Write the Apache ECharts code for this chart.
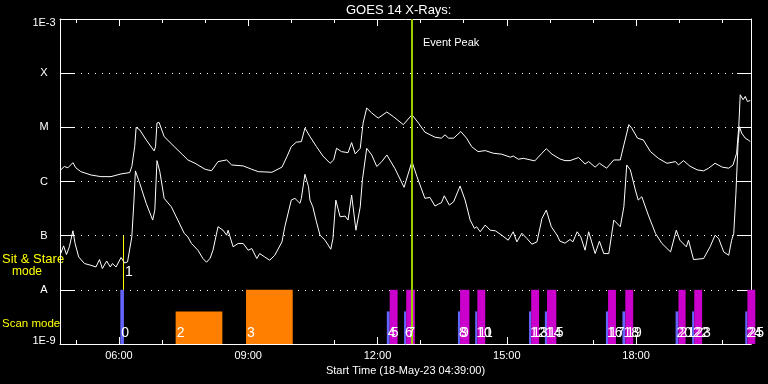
<!DOCTYPE html>
<html><head><meta charset="utf-8">
<script src="https://cdn.jsdelivr.net/npm/echarts@6/dist/echarts.min.js"></script>
<style>html,body{margin:0;padding:0;background:#000}#c{width:768px;height:384px}</style>
</head><body><div id="c"></div>
<script>
// ---------- data ----------
const chartTitle = 'GOES 14 X-Rays:';
const xAxisTitle = 'Start Time (18-May-23 04:39:00)';
const xStart = '04:38';
const xEnd = '20:40';
const hourTicks = [5,6,7,8,9,10,11,12,13,14,15,16,17,18,19,20];
const labelHours = [6,9,12,15,18];
const yLabels = {'-3':'1E-3','-4':'X','-5':'M','-6':'C','-7':'B','-8':'A','-9':'1E-9'};
const eventPeakTime = '12:48';

// long-wavelength channel (upper curve)
const longTimes = ['04:39','04:44','04:49','04:56','05:00','05:07','05:21','05:35','05:49','06:03','06:15','06:18','06:22','06:24','06:29','06:38','06:49','06:51','06:53','06:56','07:03','07:17','07:29','07:36','07:46','08:00','08:09','08:18','08:30','08:37','08:53','09:05','09:14','09:33','09:47','09:54','10:00','10:07','10:14','10:19','10:26','10:35','10:44','10:54','10:59','11:03','11:10','11:19','11:24','11:29','11:36','11:40','11:45','11:52','12:01','12:13','12:22','12:36','12:48','12:57','13:06','13:20','13:29','13:34','13:39','13:46','13:56','14:04','14:11','14:20','14:30','14:41','14:53','15:05','15:09','15:16','15:23','15:39','15:49','15:55','16:03','16:14','16:21','16:28','16:40','16:49','16:54','17:03','17:09','17:19','17:29','17:38','17:43','17:50','17:54','18:02','18:10','18:20','18:31','18:43','18:55','18:59','19:06','19:15','19:25','19:34','19:41','19:50','20:00','20:09','20:15','20:20','20:23','20:25','20:29','20:32','20:35','20:39'];
const longFlux = [1.64e-6,1.89e-6,1.79e-6,2.23e-6,1.79e-6,1.52e-6,1.32e-6,1.23e-6,1.23e-6,1.38e-6,1.46e-6,1.89e-6,4.41e-6,1.0e-5,8.99e-6,5.86e-6,3.67e-6,4.41e-6,1.20e-5,1.23e-5,6.75e-6,4.41e-6,3.09e-6,2.50e-6,2.17e-6,1.68e-6,1.58e-6,2.33e-6,2.50e-6,2.02e-6,1.94e-6,1.68e-6,1.52e-6,1.48e-6,1.84e-6,2.88e-6,4.41e-6,5.32e-6,5.45e-6,9.66e-6,6.75e-6,4.41e-6,2.96e-6,2.17e-6,2.50e-6,4.10e-6,3.56e-6,3.41e-6,5.23e-6,3.23e-6,4.10e-6,1.20e-5,2.27e-5,1.84e-5,1.48e-5,1.92e-5,1.58e-5,1.12e-5,1.71e-5,1.20e-5,8.15e-6,6.58e-6,6.31e-6,7.26e-6,6.31e-6,6.31e-6,8.36e-6,6.31e-6,4.41e-6,3.56e-6,3.72e-6,3.33e-6,3.19e-6,2.81e-6,2.96e-6,2.58e-6,2.68e-6,2.40e-6,3.33e-6,4.03e-6,3.19e-6,2.61e-6,2.43e-6,2.43e-6,2.77e-6,2.11e-6,2.33e-6,1.84e-6,2.17e-6,1.76e-6,2.50e-6,2.50e-6,4.74e-6,1.12e-5,9.66e-6,6.31e-6,5.86e-6,3.56e-6,2.68e-6,2.17e-6,2.33e-6,2.02e-6,2.43e-6,1.92e-6,1.64e-6,1.57e-6,1.76e-6,2.17e-6,1.84e-6,1.76e-6,2.02e-6,3.33e-6,1.03e-5,3.99e-5,3.23e-5,3.72e-5,3.00e-5,3.13e-5];

// short-wavelength channel (lower curve)
const shortTimes = ['04:39','04:43','04:47','04:51','04:56','04:59','05:04','05:12','05:21','05:28','05:33','05:37','05:43','05:48','05:51','05:56','06:03','06:08','06:12','06:18','06:21','06:23','06:29','06:38','06:47','06:50','06:53','06:57','07:03','07:13','07:22','07:31','07:36','07:41','07:50','07:57','08:02','08:07','08:11','08:18','08:25','08:30','08:32','08:39','08:46','08:53','09:00','09:05','09:12','09:16','09:23','09:30','09:37','09:47','09:51','10:00','10:05','10:12','10:14','10:19','10:24','10:26','10:30','10:35','10:40','10:47','10:55','10:58','11:02','11:08','11:15','11:19','11:24','11:30','11:36','11:39','11:45','11:52','11:59','12:06','12:13','12:24','12:37','12:48','12:55','13:06','13:13','13:20','13:25','13:29','13:33','13:40','13:46','13:55','14:02','14:09','14:15','14:18','14:23','14:30','14:37','14:44','14:53','15:02','15:09','15:14','15:21','15:28','15:35','15:42','15:49','15:55','16:02','16:10','16:14','16:21','16:28','16:32','16:38','16:43','16:49','16:54','17:03','17:09','17:15','17:22','17:29','17:38','17:43','17:47','17:52','17:59','18:03','18:08','18:17','18:27','18:36','18:48','18:56','19:01','19:10','19:13','19:20','19:34','19:43','19:50','19:55','20:02','20:09','20:13','20:16','20:19','20:22','20:24','20:27','20:32','20:36','20:39'];
const shortFlux = [4.67e-8,6.48e-8,4.49e-8,6.22e-8,1.23e-7,7.17e-8,4.05e-8,3.06e-8,2.84e-8,2.64e-8,3.62e-8,2.47e-8,3.41e-8,2.64e-8,3.06e-8,2.64e-8,3.95e-8,3.13e-8,3.27e-8,9.50e-8,4.54e-7,1.57e-6,9.26e-7,3.95e-7,1.94e-7,2.96e-7,2.43e-6,1.52e-6,4.89e-7,3.41e-7,1.94e-7,1.10e-7,9.50e-8,7.17e-8,5.39e-8,3.78e-8,3.23e-8,3.83e-8,5.39e-8,1.46e-7,1.26e-7,1.02e-7,1.26e-7,6.22e-8,7.17e-8,7.17e-8,5.39e-8,5.79e-8,3.78e-8,4.67e-8,4.05e-8,3.52e-8,4.35e-8,7.68e-8,1.46e-7,4.54e-7,4.89e-7,3.95e-7,4.89e-7,1.36e-6,8.01e-7,4.54e-7,3.41e-7,1.80e-7,1.02e-7,8.25e-8,5.62e-8,8.87e-8,4.54e-7,2.23e-7,2.30e-7,1.94e-7,5.62e-7,1.26e-7,3.41e-7,1.07e-6,4.10e-6,3.09e-6,1.89e-6,2.33e-6,3.09e-6,1.76e-6,7.81e-7,2.33e-6,1.23e-6,4.89e-7,5.09e-7,3.52e-7,3.83e-7,4.05e-7,5.45e-7,3.67e-7,4.22e-7,8.25e-7,4.54e-7,1.94e-7,1.36e-7,1.46e-7,1.18e-7,1.57e-7,1.26e-7,1.23e-7,1.02e-7,8.25e-8,1.18e-7,7.68e-8,1.11e-7,8.87e-8,6.96e-8,7.68e-8,2.08e-7,2.96e-7,1.46e-7,1.02e-7,7.91e-8,7.26e-8,8.50e-8,7.68e-8,1.18e-7,9.50e-8,5.39e-8,1.18e-7,4.67e-8,7.91e-8,4.67e-8,4.67e-8,1.94e-7,1.46e-7,3.41e-7,2.02e-6,1.64e-6,6.96e-7,4.54e-7,5.23e-7,2.40e-7,1.10e-7,7.17e-8,5.01e-8,1.26e-7,8.25e-8,6.22e-8,8.25e-8,3.62e-8,3.78e-8,6.22e-8,1.02e-7,8.87e-8,5.01e-8,4.35e-8,8.25e-8,1.10e-7,6.05e-7,5.09e-6,1.03e-5,7.81e-6,6.31e-6,5.86e-6,5.45e-6];

// observation events (numbered 0..25)
const eventNames = ['0','1','2','3','4','5','6','7','8','9','10','11','12','13','14','15','16','17','18','19','20','21','22','23','24','25'];
const eventKinds = ['raster','stare','scan','scan','raster','sitstare','raster','sitstare','raster','sitstare','raster','sitstare','raster','sitstare','raster','sitstare','raster','sitstare','raster','sitstare','raster','sitstare','raster','sitstare','raster','sitstare'];
const eventStart = ['06:02','06:06','07:19','08:57','12:13','12:17','12:37','12:40','13:52','13:55','14:16','14:19','15:31','15:34','15:53','15:56','17:18','17:21','17:41','17:45','18:55','18:59','19:18','19:21','20:32','20:35'];
const eventEnd   = ['06:07','06:06','08:24','10:02','12:17','12:28','12:40','12:52','13:55','14:08','14:19','14:30','15:34','15:45','15:56','16:09','17:21','17:32','17:45','17:56','18:59','19:09','19:21','19:32','20:35','20:46'];
const eventTop    = [1e-8,1e-7,4e-9,1e-8,4e-9,1e-8,4e-9,1e-8,4e-9,1e-8,4e-9,1e-8,4e-9,1e-8,4e-9,1e-8,4e-9,1e-8,4e-9,1e-8,4e-9,1e-8,4e-9,1e-8,4e-9,1e-8];
const eventBottom = [1e-9,1e-8,1e-9,1e-9,1e-9,1e-9,1e-9,1e-9,1e-9,1e-9,1e-9,1e-9,1e-9,1e-9,1e-9,1e-9,1e-9,1e-9,1e-9,1e-9,1e-9,1e-9,1e-9,1e-9,1e-9,1e-9];

// ---------- helpers / styles ----------
const FONT = 'Liberation Sans';
const kindList = ['raster','stare','scan','sitstare'];
const kindColor = {raster:'#6464ff', stare:'#ffff00', scan:'#ff8000', sitstare:'#cc00cc'};
function toHours(s){ const p = s.split(':').map(Number); return p[0] + p[1]/60; }
function pad(n){ return (n < 10 ? '0' : '') + n; }

const longData = longTimes.map((t,i)=>[toHours(t), longFlux[i]]);
const shortData = shortTimes.map((t,i)=>[toHours(t), shortFlux[i]]);
const eventData = eventNames.map((n,i)=>[toHours(eventStart[i]), toHours(eventEnd[i]), eventTop[i], eventBottom[i], kindList.indexOf(eventKinds[i])]);

const xMin = toHours(xStart), xMax = toHours(xEnd);
const white = '#ffffff';
function xAx(pos, tickLen, ticks, withLine, withLabel){
  const a = {
    type:'value', min:xMin, max:xMax, position:pos,
    splitLine:{show:false},
    axisLine:{show:withLine, onZero:false, lineStyle:{color:white, width:1}},
    axisTick:{show:true, inside:true, length:tickLen, customValues:ticks, lineStyle:{color:white, width:1}},
    axisLabel:{show:withLabel}
  };
  if (withLabel){
    a.axisLabel = {show:true, customValues:labelHours, color:white, fontSize:11, fontFamily:FONT, margin:6,
      formatter:v=>pad(Math.round(v))+':00'};
    a.name = xAxisTitle; a.nameLocation = 'middle'; a.nameGap = 17;
    a.nameTextStyle = {color:white, fontSize:11, fontFamily:FONT};
  }
  return a;
}
function yAx(pos, withLabel){
  return {
    type:'log', logBase:10, min:1e-9, max:1e-3, position:pos,
    axisLine:{show:true, onZero:false, lineStyle:{color:white, width:1}},
    axisTick:{show:true, inside:true, length:14, lineStyle:{color:white, width:1}},
    splitLine:{show:withLabel, lineStyle:{color:white, width:1, type:[1,6]}},
    axisLabel:{show:withLabel, color:white, fontSize:11, fontFamily:FONT, margin:16, align:'center',
      formatter:v=>{ const e = Math.round(Math.log10(v)); const t = yLabels[String(e)] || '';
        if (e === -3) return '{t|'+t+'}'; if (e === -9) return '{b|'+t+'}'; return t; },
      rich:{ t:{padding:[7,0,0,0], color:white, fontSize:11, fontFamily:FONT},
             b:{padding:[0,0,7,0], color:white, fontSize:11, fontFamily:FONT} }
    }
  };
}

const chart = echarts.init(document.getElementById('c'), null, {renderer:'canvas'});
chart.setOption({
  animation:false,
  backgroundColor:'#000000',
  title:{text:chartTitle, left:346, top:4, padding:0,
    textStyle:{color:white, fontSize:13, fontWeight:'normal', fontFamily:FONT}},
  grid:{left:60, right:17, top:19, bottom:40, containLabel:false},
  xAxis:[ xAx('bottom',4,hourTicks,true,true), xAx('bottom',7,labelHours,false,false),
          xAx('top',4,hourTicks,true,false), xAx('top',7,labelHours,false,false) ],
  yAxis:[ yAx('left',true), yAx('right',false) ],
  graphic:[
    {type:'text', x:423, y:43, style:{text:'Event Peak', fill:white, fontSize:11, fontFamily:FONT, verticalAlign:'middle'}},
    {type:'text', x:2, y:259, style:{text:'Sit & Stare', fill:'#ffff00', fontSize:13, fontFamily:FONT, verticalAlign:'middle'}},
    {type:'text', x:12, y:272, style:{text:'mode', fill:'#ffff00', fontSize:12, fontFamily:FONT, verticalAlign:'middle'}},
    {type:'text', x:2, y:324, style:{text:'Scan mode', fill:'#ffff00', fontSize:11.5, fontFamily:FONT, verticalAlign:'middle'}}
  ],
  series:[
    {type:'custom', xAxisIndex:0, yAxisIndex:0, z:1, clip:false, silent:true,
     encode:{x:[0,1], y:[2,3]}, data:eventData,
     renderItem:(params, api)=>{
       const s = api.value(0), e = api.value(1), top = api.value(2), bot = api.value(3);
       const kind = kindList[api.value(4)];
       if (kind === 'stare'){
         const p0 = api.coord([s,bot]), p1 = api.coord([s,top]);
         const x = Math.round(p0[0]) + 0.5;
         return {type:'line', shape:{x1:x, y1:p0[1], x2:x, y2:p1[1]}, style:{stroke:kindColor[kind], lineWidth:1}};
       }
       const p0 = api.coord([s,bot]), p1 = api.coord([e,top]);
       return {type:'rect', shape:{x:p0[0], y:p1[1], width:p1[0]-p0[0], height:p0[1]-p1[1]}, style:{fill:kindColor[kind]}};
     }},
    {type:'line', name:'long', xAxisIndex:0, yAxisIndex:0, z:3, data:longData, showSymbol:false, symbol:'none',
     lineStyle:{color:white, width:1}, silent:true,
     markLine:{symbol:'none', silent:true, label:{show:false}, z:4,
       lineStyle:{color:'#9acd00', width:2, type:'solid'}, data:[{xAxis:toHours(eventPeakTime)}]}},
    {type:'line', name:'short', xAxisIndex:0, yAxisIndex:0, z:3, data:shortData, showSymbol:false, symbol:'none',
     lineStyle:{color:white, width:1}, silent:true},
    {type:'custom', xAxisIndex:0, yAxisIndex:0, z:6, clip:false, silent:true,
     encode:{x:[0,1], y:[2,3]}, data:eventData,
     renderItem:(params, api)=>{
       const s = api.value(0);
       const kind = kindList[api.value(4)];
       let x, y;
       if (kind === 'stare'){ const p = api.coord([s, 1e-8]); x = Math.round(p[0]) + 2; y = p[1] - 17.5; }
       else { const p = api.coord([s, 1e-9]); x = p[0] + 1; y = p[1] - 11; }
       return {type:'text', x:x, y:y, style:{text:eventNames[params.dataIndex], fill:white, fontSize:14, fontFamily:FONT, verticalAlign:'middle', align:'left'}};
     }}
  ]
});
</script></body></html>
